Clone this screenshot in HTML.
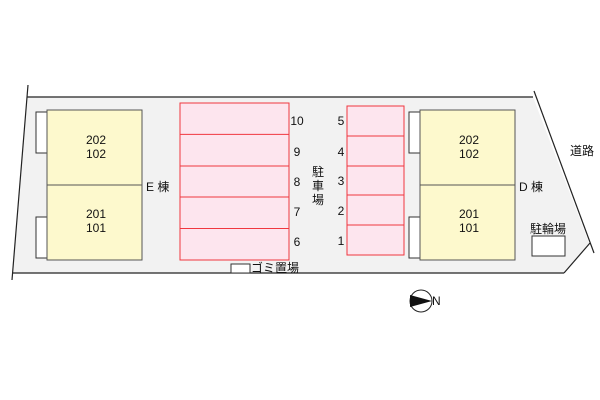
<!DOCTYPE html>
<html><head><meta charset="utf-8"><style>
body{margin:0;background:#fff}
svg{display:block}
text{font-family:"Liberation Sans","Noto Sans CJK JP",sans-serif;font-size:12px;fill:#111}
</style></head><body>
<svg width="600" height="400" viewBox="0 0 600 400">
<polygon points="27,97 533,97 589,243 564,273 12,273" fill="#f2f2f2"/>
<line x1="27" y1="97" x2="533" y2="97" stroke="#222" stroke-width="1.2"/>
<line x1="12" y1="273" x2="564" y2="273" stroke="#222" stroke-width="1.2"/>
<line x1="564" y1="273" x2="590" y2="243" stroke="#222" stroke-width="1.2"/>
<line x1="28" y1="85" x2="12" y2="280" stroke="#222" stroke-width="1.2"/>
<line x1="534" y1="91" x2="594" y2="253" stroke="#222" stroke-width="1.2"/>
<g fill="#fff" stroke="#333" stroke-width="1">
<rect x="36" y="112" width="11" height="41"/><rect x="36" y="217" width="11" height="41"/>
<rect x="409" y="112" width="11" height="41"/><rect x="409" y="217" width="11" height="41"/>
<rect x="532" y="236" width="33" height="20"/><rect x="231" y="264" width="19" height="9"/>
</g>
<g fill="#fdf9cd" stroke="#555" stroke-width="1">
<rect x="47" y="110" width="95" height="75"/><rect x="47" y="185" width="95" height="75"/>
<rect x="420" y="110" width="95" height="75"/><rect x="420" y="185" width="95" height="75"/>
</g>
<g fill="#fde5ee" stroke="#f0373f" stroke-width="1">
<rect x="180" y="103" width="109" height="157"/>
<rect x="347" y="106" width="57" height="149"/>
</g>
<g stroke="#f0373f" stroke-width="1">
<line x1="180" y1="134.4" x2="289" y2="134.4"/><line x1="180" y1="166" x2="289" y2="166"/>
<line x1="180" y1="197" x2="289" y2="197"/><line x1="180" y1="228.5" x2="289" y2="228.5"/>
<line x1="347" y1="136" x2="404" y2="136"/><line x1="347" y1="166" x2="404" y2="166"/>
<line x1="347" y1="195" x2="404" y2="195"/><line x1="347" y1="225" x2="404" y2="225"/>
</g>
<g text-anchor="middle">
<text x="96" y="144">202</text><text x="96" y="158">102</text>
<text x="96" y="218">201</text><text x="96" y="232">101</text>
<text x="469" y="144">202</text><text x="469" y="158">102</text>
<text x="469" y="218">201</text><text x="469" y="232">101</text>
<text x="297" y="125">10</text><text x="297" y="156">9</text><text x="297" y="186">8</text>
<text x="297" y="216">7</text><text x="297" y="246">6</text>
<text x="341" y="125">5</text><text x="341" y="156">4</text><text x="341" y="185">3</text>
<text x="341" y="215">2</text><text x="341" y="245">1</text>
<text x="318" y="176">駐</text><text x="318" y="190">車</text><text x="318" y="204">場</text>
</g>
<text x="146" y="191">E 棟</text>
<text x="519" y="191">D 棟</text>
<text x="570" y="155">道路</text>
<text x="530" y="233">駐輪場</text>
<text x="251" y="272">ゴミ置場</text>
<circle cx="421" cy="301" r="11" fill="#fff" stroke="#222" stroke-width="1"/>
<polygon points="410,295 432,301 410,307" fill="#111"/>
<text x="432" y="305" font-size="9">N</text>
</svg>
</body></html>
